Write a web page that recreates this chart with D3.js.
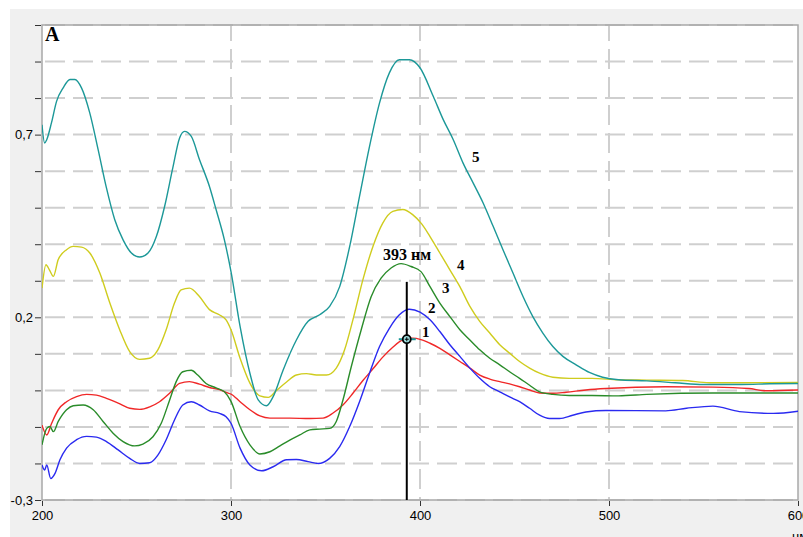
<!DOCTYPE html>
<html>
<head>
<meta charset="utf-8">
<script src="https://d3js.org/d3.v7.min.js"></script>
<style>
    body { margin: 0; background: #ffffff; }
    .tickLabel { font-family: "Liberation Sans", Arial, sans-serif; font-size: 13px; fill: #000; }
    .note { font-family: "Liberation Serif", "Times New Roman", serif; font-weight: bold; fill: #000; }
</style>
</head>
<body>
<script>
//wrap everything in a self-executing anonymous function to move to local scope
(function(){

    //x ticks (nm) and y ticks (absorbance)
    var xTicks = [200, 300, 400, 500, 600];
    var yTicks = [1.0, 0.9, 0.8, 0.7, 0.6, 0.5, 0.4, 0.3, 0.2, 0.1, 0.0, -0.1, -0.2, -0.3];
    var yLabels = [0.7, 0.2, -0.3];
    var peakNm = 393; //marked wavelength

    //spectra, [nm, A]
    var curve1 = [[200,-0.095],[202.5,-0.122],[205.1,-0.09],[208.6,-0.053],[213,-0.031],[218.3,-0.017],[223.6,-0.011],[228.8,-0.013],[234.1,-0.022],[240.3,-0.035],[246.4,-0.049],[251.7,-0.052],[257,-0.045],[262.2,-0.031],[267.5,-0.008],[272.8,0.019],[278,0.024],[283.3,0.017],[288.6,0.008],[293.9,0.002],[298.2,-0.007],[300,-0.01],[304.8,-0.031],[310,-0.053],[315.3,-0.07],[320.6,-0.076],[331.1,-0.076],[341.7,-0.077],[348.7,-0.076],[354,-0.062],[359.2,-0.04],[364.5,-0.008],[369.8,0.027],[375.1,0.059],[380.3,0.091],[385.6,0.118],[390.9,0.138],[396.1,0.143],[400.5,0.139],[405.3,0.129],[410.5,0.115],[415.8,0.097],[421.1,0.079],[426.4,0.061],[431.6,0.042],[436.9,0.031],[442.2,0.024],[447.4,0.018],[452.7,0.01],[458,0.001],[463.3,-0.007],[470.3,-0.008],[477.3,-0.005],[487.8,0.001],[498.4,0.005],[530,0.01],[555,0.009],[574,0.005],[583,-0.001],[600,0.001]];
    var curve2 = [[200,-0.204],[201.4,-0.218],[202.5,-0.204],[204.6,-0.241],[206.9,-0.227],[209.5,-0.19],[213,-0.158],[218.3,-0.135],[223.6,-0.126],[228.8,-0.128],[234.1,-0.14],[240.3,-0.163],[246.4,-0.186],[251.7,-0.2],[257,-0.198],[261.3,-0.177],[265.7,-0.135],[270.1,-0.081],[274.5,-0.04],[279,-0.031],[283.3,-0.04],[288.6,-0.056],[293.9,-0.063],[297.4,-0.072],[300,-0.09],[304.8,-0.158],[310,-0.204],[316.2,-0.22],[322.3,-0.209],[329.4,-0.19],[334.6,-0.189],[340.8,-0.195],[346.1,-0.2],[352.2,-0.186],[357.5,-0.154],[362.8,-0.099],[368,-0.031],[373.3,0.047],[378.6,0.12],[383.8,0.17],[389.1,0.207],[394.4,0.222],[400,0.214],[405.3,0.193],[410.5,0.161],[415.8,0.125],[421.1,0.093],[426.4,0.061],[431.6,0.033],[436.9,0.01],[442.2,-0.004],[447.4,-0.018],[452.7,-0.031],[458,-0.049],[463.3,-0.068],[468.5,-0.077],[473.8,-0.077],[480.8,-0.068],[487.8,-0.059],[498.4,-0.055],[530,-0.056],[541,-0.049],[555,-0.043],[569,-0.058],[587,-0.063],[600,-0.057]];
    var curve3 = [[200,-0.149],[202.5,-0.104],[204.2,-0.099],[206,-0.113],[208.6,-0.085],[213,-0.053],[216.5,-0.042],[221.8,-0.04],[227.1,-0.053],[232.3,-0.085],[237.6,-0.117],[242.9,-0.14],[249,-0.152],[253.4,-0.147],[258.7,-0.127],[263.1,-0.09],[267.5,-0.027],[271,0.024],[274.5,0.051],[279,0.055],[282.4,0.042],[286.8,0.019],[292.1,0.007],[296.5,-0.004],[300,-0.03],[304.8,-0.099],[310,-0.149],[315.3,-0.174],[320.6,-0.168],[325.9,-0.152],[331.1,-0.136],[336.4,-0.122],[341.7,-0.108],[346.9,-0.106],[352.2,-0.104],[355.7,-0.085],[359.2,-0.027],[363.6,0.064],[368.9,0.166],[374.2,0.257],[379.4,0.307],[384.7,0.335],[390,0.347],[395.3,0.339],[400.5,0.325],[405.3,0.284],[410.5,0.239],[415.8,0.202],[421.1,0.166],[426.4,0.138],[431.6,0.111],[436.9,0.088],[442.2,0.07],[447.4,0.051],[452.7,0.033],[458,0.014],[463.3,-0.004],[470.3,-0.011],[479,-0.014],[491,-0.014],[505,-0.015],[520,-0.011],[555,-0.007],[600,-0.007]];
    var curve4 = [[200,0.28],[202.1,0.344],[203.9,0.33],[206,0.312],[208.6,0.358],[213,0.385],[216.5,0.394],[220.9,0.392],[225.3,0.376],[230.6,0.321],[235.9,0.239],[241.1,0.166],[246.4,0.106],[251.7,0.085],[256.9,0.088],[261.3,0.111],[265.7,0.166],[270.1,0.239],[273.6,0.275],[278,0.28],[283.3,0.257],[288.6,0.221],[293.8,0.207],[297.4,0.193],[300,0.166],[304.8,0.088],[310,0.02],[315.3,-0.015],[319.7,-0.019],[324.1,0.0],[329.4,0.023],[334.6,0.042],[339.9,0.046],[345.2,0.042],[350.5,0.042],[355.7,0.061],[360.1,0.111],[364.5,0.193],[369.8,0.303],[375.1,0.394],[380.3,0.458],[385.6,0.49],[390.9,0.495],[396.1,0.481],[401,0.455],[405.3,0.421],[410.5,0.376],[415.8,0.33],[421.1,0.284],[426.4,0.23],[431.6,0.189],[436.9,0.157],[442.2,0.125],[447.4,0.102],[452.7,0.079],[458,0.061],[463.3,0.047],[470.3,0.036],[479,0.033],[491,0.033],[505,0.029],[520,0.028],[539,0.027],[553,0.021],[575,0.021],[600,0.022]];
    var curve5 = [[200,0.727],[201.4,0.677],[202.5,0.686],[205,0.732],[207.7,0.791],[211.2,0.828],[214.8,0.851],[217.4,0.851],[220.9,0.828],[225.3,0.759],[229.7,0.659],[234.1,0.554],[238.5,0.467],[242.9,0.412],[247.3,0.376],[251.7,0.365],[256.1,0.376],[260.5,0.421],[264.9,0.504],[269.2,0.609],[272.8,0.691],[275.4,0.709],[279,0.695],[283.3,0.632],[288.6,0.558],[292.1,0.495],[296.5,0.412],[300,0.325],[304.8,0.175],[310,0.047],[314.4,-0.026],[318.8,-0.042],[322.3,-0.017],[327.6,0.056],[334.6,0.138],[340.8,0.189],[346.9,0.207],[352.2,0.23],[357.5,0.284],[362.8,0.394],[368,0.531],[373.3,0.668],[378.6,0.787],[383.8,0.869],[389.1,0.905],[394.4,0.905],[400,0.883],[407,0.805],[412.3,0.741],[417.6,0.686],[422.8,0.622],[428.1,0.568],[433.4,0.513],[438.7,0.449],[443.9,0.385],[449.2,0.321],[454.5,0.257],[459.7,0.202],[465,0.157],[470.3,0.12],[475.6,0.093],[482.6,0.07],[489.6,0.049],[496.6,0.036],[505,0.029],[520,0.026],[535,0.021],[550,0.016],[570,0.016],[585,0.018],[600,0.019]];

    var seriesNames = ["1", "2", "3", "4", "5"];
    var seriesData = [curve1, curve2, curve3, curve4, curve5];
    var seriesColors = ["#f02828", "#2a2af0", "#2a8c2a", "#cfcc1e", "#1c9898"];

    window.onload = drawChart();

    //builds the whole picture
    function drawChart(){

        var width = 803,
            height = 537;

        var svg = d3.select("body")
            .append("svg")
            .attr("width", width)
            .attr("height", height);

        //window style frame
        svg.append("rect")
            .attr("x", 10).attr("y", 9)
            .attr("width", width - 10).attr("height", height - 9)
            .attr("fill", "#f0f0f0");

        var x = d3.scaleLinear().domain([200, 600]).range([42, 798]);
        var y = d3.scaleLinear().domain([-0.3, 1.0]).range([500, 25]);

        //plot background
        svg.append("rect")
            .attr("x", x(200)).attr("y", y(1.0))
            .attr("width", x(600) - x(200)).attr("height", y(-0.3) - y(1.0))
            .attr("fill", "#ffffff");

        svg.append("clipPath").attr("id", "plotClip")
            .append("rect")
            .attr("x", x(200)).attr("y", y(1.0))
            .attr("width", x(600) - x(200)).attr("height", y(-0.3) - y(1.0));

        //dashed grid
        svg.selectAll(".hGrid")
            .data(yTicks)
            .enter()
            .append("line")
            .attr("class", "hGrid")
            .attr("x1", x(200)).attr("x2", x(600))
            .attr("y1", function(d){ return y(d); })
            .attr("y2", function(d){ return y(d); })
            .attr("stroke", "#cfcfcf")
            .attr("stroke-width", 2)
            .attr("stroke-dasharray", "20,8")
            .attr("stroke-dashoffset", 25);

        svg.selectAll(".vGrid")
            .data(xTicks.slice(1, 4))
            .enter()
            .append("line")
            .attr("class", "vGrid")
            .attr("x1", function(d){ return x(d); })
            .attr("x2", function(d){ return x(d); })
            .attr("y1", y(1.0)).attr("y2", y(-0.3))
            .attr("stroke", "#cfcfcf")
            .attr("stroke-width", 2)
            .attr("stroke-dasharray", "20,8")
            .attr("stroke-dashoffset", 4);

        //plot border
        svg.append("rect")
            .attr("x", x(200)).attr("y", y(1.0))
            .attr("width", x(600) - x(200)).attr("height", y(-0.3) - y(1.0))
            .attr("fill", "none")
            .attr("stroke", "#a8a8a8")
            .attr("stroke-width", 1.5);

        //y axis ticks
        var yAxis = d3.axisLeft(y)
            .tickValues(yTicks)
            .tickSize(6)
            .tickPadding(2)
            .tickFormat(function(d){
                var hit = yLabels.some(function(v){ return Math.abs(v - d) < 1e-6; });
                return hit ? d3.format(".1f")(d).replace(".", ",").replace("−", "-") : "";
            });
        var gy = svg.append("g")
            .attr("transform", "translate(" + (x(200) - 1) + ",0)")
            .call(yAxis);
        gy.select(".domain").remove();
        gy.selectAll("line").attr("stroke", "#333");
        gy.selectAll("text").attr("class", "tickLabel").attr("font-size", null).attr("font-family", null);

        //x axis ticks
        var xAxis = d3.axisBottom(x)
            .tickValues(xTicks)
            .tickSize(5)
            .tickPadding(5)
            .tickFormat(d3.format("d"));
        var gx = svg.append("g")
            .attr("transform", "translate(0," + (y(-0.3) + 1) + ")")
            .call(xAxis);
        gx.select(".domain").remove();
        gx.selectAll("line").attr("stroke", "#333");
        gx.selectAll("text").attr("class", "tickLabel").attr("font-size", null).attr("font-family", null);

        //unit label, cut by the window edge like the original
        svg.append("text")
            .attr("class", "tickLabel")
            .attr("x", 792).attr("y", 541)
            .text("нм");

        //spectra
        var line = d3.line()
            .x(function(d){ return x(d[0]); })
            .y(function(d){ return y(d[1]); })
            .curve(d3.curveMonotoneX);

        svg.append("g")
            .attr("clip-path", "url(#plotClip)")
            .selectAll(".spectrum")
            .data(seriesData)
            .enter()
            .append("path")
            .attr("class", "spectrum")
            .attr("d", line)
            .attr("fill", "none")
            .attr("stroke", function(d, i){ return seriesColors[i]; })
            .attr("stroke-width", 1.4);

        //cursor line at the marked wavelength
        svg.append("line")
            .attr("x1", x(peakNm)).attr("x2", x(peakNm))
            .attr("y1", y(0.297)).attr("y2", y(-0.3))
            .attr("stroke", "#000")
            .attr("stroke-width", 2);

        //cursor point sits on curve 1
        var bis = d3.bisector(function(d){ return d[0]; }).left;
        var k = bis(curve1, peakNm);
        var p0 = curve1[k - 1], p1 = curve1[k];
        var aPeak = p0[1] + (p1[1] - p0[1]) * (peakNm - p0[0]) / (p1[0] - p0[0]);
        var cx = x(peakNm), cy = y(aPeak);

        svg.append("line")
            .attr("x1", cx - 8).attr("x2", cx + 9)
            .attr("y1", cy).attr("y2", cy)
            .attr("stroke", "#1c9898").attr("stroke-width", 2);
        svg.append("circle")
            .attr("cx", cx).attr("cy", cy).attr("r", 4)
            .attr("fill", "#9fe0e0")
            .attr("stroke", "#000").attr("stroke-width", 1.8);
        svg.append("path")
            .attr("d", "M" + (cx - 2) + "," + cy + "H" + (cx + 2) + "M" + cx + "," + (cy - 2) + "V" + (cy + 2))
            .attr("stroke", "#000").attr("stroke-width", 1);

        //annotations in data units
        var notes = [
            { t: "A", nm: 201.6, a: 0.955, size: 20 },
            { t: "393 нм", nm: 380.4, a: 0.358, size: 16 },
            { t: "1", nm: 401.0, a: 0.147, size: 15 },
            { t: "2", nm: 404.2, a: 0.212, size: 15 },
            { t: "3", nm: 411.6, a: 0.267, size: 15 },
            { t: "4", nm: 419.6, a: 0.330, size: 15 },
            { t: "5", nm: 427.5, a: 0.626, size: 15 }
        ];
        svg.selectAll(".note")
            .data(notes)
            .enter()
            .append("text")
            .attr("class", "note")
            .attr("x", function(d){ return x(d.nm); })
            .attr("y", function(d){ return y(d.a); })
            .attr("font-size", function(d){ return d.size + "px"; })
            .text(function(d){ return d.t; });
    }

})();
</script>
</body>
</html>
